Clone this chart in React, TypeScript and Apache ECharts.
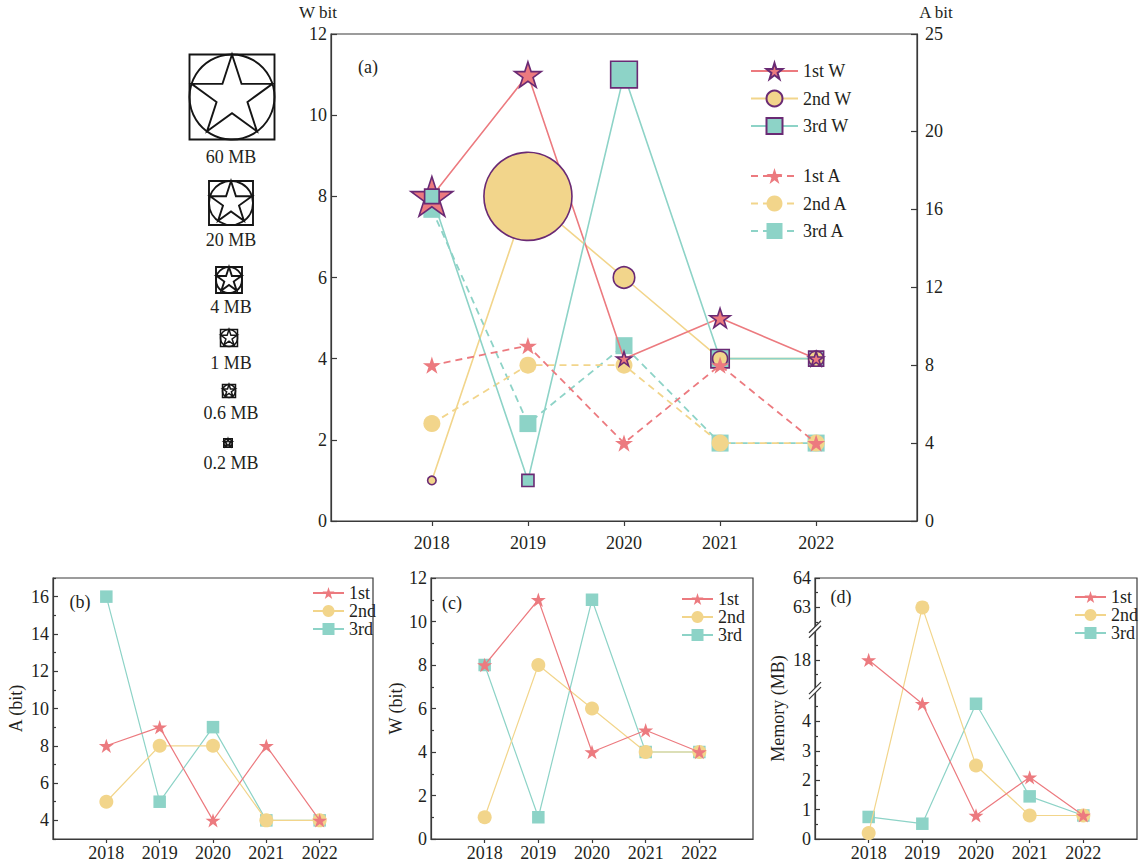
import React, { useEffect, useRef } from 'react';
import * as echarts from 'echarts';

// ---------------- data ----------------
const years = [2018, 2019, 2020, 2021, 2022];
const w1st = [8, 11, 4, 5, 4];
const w2nd = [1, 8, 6, 4, 4];
const w3rd = [8, 1, 11, 4, 4];
const a1st = [8, 9, 4, 8, 4];
const a2nd = [5, 8, 8, 4, 4];
const a3rd = [16, 5, 9, 4, 4];
const mem1st = [18, 4.6, 0.8, 2.1, 0.8];
const mem2nd = [0.2, 63, 2.5, 0.8, 0.8];
const mem3rd = [0.75, 0.52, 4.6, 1.45, 0.8];
const sizeLegendMB = [60, 20, 4, 1, 0.6, 0.2];
const sizeLegendLabels = ['60 MB', '20 MB', '4 MB', '1 MB', '0.6 MB', '0.2 MB'];
const rightTicks = [0, 4, 8, 12, 16, 20, 25];
const aMajorTicks = [4, 6, 8, 10, 12, 14, 16];
const aMinorTicks = [3, 5, 7, 9, 11, 13, 15, 17];
const memMajorTicks = [0, 1, 2, 3, 4, 18, 63, 64];
const memMinorTicks = [0.5, 1.5, 2.5, 3.5, 4.5, 17.5, 18.5, 62.5, 63.5];
const memBreaks = [
  { start: 5, end: 17 },
  { start: 19, end: 62.3 },
];

// ---------------- styles / layout ----------------
const FONT = '"Liberation Serif", "Times New Roman", serif';
const RED = '#EC7A7F';
const YELLOW = '#F2D58B';
const TEAL = '#8DD3C7';
const PURPLE = '#6A2A74';
const AX = '#3a3a3a';
const TXT = '#231f20';

// bubble size scale (MB -> px)
const SIZE_STOPS: [number, number][] = [
  [0, 4], [0.2, 8.5], [0.6, 13], [1, 17], [4, 26], [20, 44], [60, 85],
];
function bubbleSize(mb: number): number {
  for (let i = 1; i < SIZE_STOPS.length; i++) {
    const [x0, y0] = SIZE_STOPS[i - 1];
    const [x1, y1] = SIZE_STOPS[i];
    if (mb <= x1 || i === SIZE_STOPS.length - 1) {
      return y0 + ((mb - x0) / (x1 - x0)) * (y1 - y0);
    }
  }
  return 4;
}

function starPoints(cx: number, cy: number, R: number): number[][] {
  const pts: number[][] = [];
  for (let i = 0; i < 10; i++) {
    const r = i % 2 === 0 ? R : R * 0.382;
    const a = -Math.PI / 2 + (i * Math.PI) / 5;
    pts.push([cx + r * Math.cos(a), cy + r * Math.sin(a)]);
  }
  return pts;
}
const STAR =
  'path://' +
  starPoints(0, 0, 1)
    .map((p, i) => (i ? 'L' : 'M') + p[0].toFixed(4) + ',' + p[1].toFixed(4))
    .join(' ') +
  'Z';

const pairs = (ys: number[]) => years.map((x, i) => [x, ys[i]]);

const GRID_MAIN = { left: 331, top: 34, width: 586, height: 487 };
const GRID_B = { left: 53, top: 578, width: 320, height: 261 };
const GRID_C = { left: 431, top: 578, width: 322, height: 261 };
const GRID_D = { left: 815, top: 578, width: 322, height: 261 };

const SIZE_LEGEND_LAYOUT = [
  { cx: 232, cy: 97, ly: 157 },
  { cx: 231, cy: 203, ly: 240 },
  { cx: 229, cy: 280, ly: 307 },
  { cx: 229, cy: 338, ly: 363 },
  { cx: 229, cy: 391, ly: 413 },
  { cx: 228, cy: 443, ly: 463 },
];

const axisLine = { show: true, lineStyle: { color: AX, width: 1.2 } };
const tickStyle = { color: AX, width: 1.2 };

function xAxisFor(gridIndex: number, min: number, max: number, margin: number, tickLen: number) {
  return {
    type: 'value',
    gridIndex,
    min,
    max,
    axisLine,
    splitLine: { show: false },
    axisTick: { show: true, inside: false, length: tickLen, customValues: years, lineStyle: tickStyle },
    axisLabel: {
      customValues: years,
      formatter: (v: number) => String(v),
      fontSize: 18,
      fontFamily: FONT,
      color: TXT,
      margin,
    },
  };
}

const labelStyle = (margin: number) => ({ fontSize: 18, fontFamily: FONT, color: TXT, margin });

function subSeries(prefixX: number, prefixY: number, d1: number[], d2: number[], d3: number[]) {
  return [
    {
      name: '3rd', type: 'line', xAxisIndex: prefixX, yAxisIndex: prefixY, data: pairs(d3),
      symbol: 'rect', symbolSize: 12.5, z: 2,
      lineStyle: { color: TEAL, width: 1.2 }, itemStyle: { color: TEAL },
    },
    {
      name: '2nd', type: 'line', xAxisIndex: prefixX, yAxisIndex: prefixY, data: pairs(d2),
      symbol: 'circle', symbolSize: 14, z: 3,
      lineStyle: { color: YELLOW, width: 1.2 }, itemStyle: { color: YELLOW },
    },
    {
      name: '1st', type: 'line', xAxisIndex: prefixX, yAxisIndex: prefixY, data: pairs(d1),
      symbol: STAR, symbolKeepAspect: true, symbolSize: 15, z: 4,
      lineStyle: { color: RED, width: 1.2 }, itemStyle: { color: RED },
    },
  ];
}

function subLegend(left: number, top: number) {
  return {
    data: ['1st', '2nd', '3rd'],
    orient: 'vertical',
    left,
    top,
    padding: 0,
    itemWidth: 31,
    itemHeight: 15,
    itemGap: 0,
    selectedMode: false,
    textStyle: { fontSize: 18, fontFamily: FONT, color: TXT, lineHeight: 15 },
  };
}

// W bubbles: one table, larger bubbles drawn first so small ones stay visible
function wBubbleData() {
  const groups = [
    { ys: w3rd, mem: mem3rd, symbol: 'rect', color: TEAL },
    { ys: w2nd, mem: mem2nd, symbol: 'circle', color: YELLOW },
    { ys: w1st, mem: mem1st, symbol: STAR, color: RED },
  ];
  const items: any[] = [];
  groups.forEach((g) => {
    years.forEach((yr, i) => {
      items.push({
        value: [yr, g.ys[i]],
        symbol: g.symbol,
        symbolSize: bubbleSize(g.mem[i]),
        itemStyle: { color: g.color },
      });
    });
  });
  return items.slice().sort((a, b) => b.symbolSize - a.symbolSize);
}

function buildOption() {
  const wBorder = { borderColor: PURPLE, borderWidth: 1.6 };
  return {
    animation: false,
    backgroundColor: '#fff',
    textStyle: { fontFamily: FONT, color: TXT },
    grid: [
      { ...GRID_MAIN, show: true, borderColor: AX, borderWidth: 1.2 },
      { ...GRID_B, show: true, borderColor: AX, borderWidth: 1.2 },
      { ...GRID_C, show: true, borderColor: AX, borderWidth: 1.2 },
      { ...GRID_D, show: true, borderColor: AX, borderWidth: 1.2 },
    ],
    xAxis: [
      xAxisFor(0, 2016.95, 2023.05, 13, 5),
      xAxisFor(1, 2017, 2023, 5, 4),
      xAxisFor(2, 2017, 2023, 5, 4),
      xAxisFor(3, 2017, 2023, 5, 4),
    ],
    yAxis: [
      {
        type: 'value', gridIndex: 0, position: 'left', min: 0, max: 12, interval: 2,
        axisLine, splitLine: { show: false },
        axisTick: { inside: true, length: 6, lineStyle: tickStyle },
        axisLabel: labelStyle(4),
      },
      {
        type: 'value', gridIndex: 0, position: 'right', min: 0, max: 25,
        axisLine, splitLine: { show: false },
        axisTick: { inside: true, length: 6, customValues: rightTicks, lineStyle: tickStyle },
        axisLabel: { ...labelStyle(8), customValues: rightTicks },
      },
      {
        type: 'value', gridIndex: 1, position: 'left', min: 3, max: 17,
        axisLine, splitLine: { show: false },
        axisTick: { inside: true, length: 5, customValues: aMajorTicks, lineStyle: tickStyle },
        axisLabel: { ...labelStyle(4), customValues: aMajorTicks },
        name: 'A (bit)', nameLocation: 'middle', nameGap: 28, nameRotate: 90,
        nameTextStyle: { fontSize: 18, fontFamily: FONT, color: TXT },
      },
      {
        type: 'value', gridIndex: 1, position: 'left', min: 3, max: 17,
        axisLine: { show: false }, splitLine: { show: false },
        axisTick: { inside: true, length: 3, customValues: aMinorTicks, lineStyle: tickStyle },
        axisLabel: { show: false },
      },
      {
        type: 'value', gridIndex: 2, position: 'left', min: 0, max: 12, interval: 2,
        axisLine, splitLine: { show: false },
        axisTick: { inside: true, length: 5, lineStyle: tickStyle },
        minorTick: { show: true, splitNumber: 2, length: 3, lineStyle: tickStyle },
        axisLabel: labelStyle(4),
        name: 'W (bit)', nameLocation: 'middle', nameGap: 24, nameRotate: 90,
        nameTextStyle: { fontSize: 18, fontFamily: FONT, color: TXT },
      },
      {
        type: 'value', gridIndex: 3, position: 'left', min: 0, max: 64,
        breaks: memBreaks.map((b) => ({ ...b, gap: '1%' })),
        breakArea: { show: false },
        axisLine, splitLine: { show: false },
        axisTick: { inside: true, length: 5, customValues: memMajorTicks, lineStyle: tickStyle },
        axisLabel: { ...labelStyle(4), customValues: memMajorTicks },
        name: 'Memory (MB)', nameLocation: 'middle', nameGap: 28, nameRotate: 90,
        nameTextStyle: { fontSize: 18, fontFamily: FONT, color: TXT },
      },
      {
        type: 'value', gridIndex: 3, position: 'left', min: 0, max: 64,
        breaks: memBreaks.map((b) => ({ ...b, gap: '1%' })),
        breakArea: { show: false },
        axisLine: { show: false }, splitLine: { show: false },
        axisTick: { inside: true, length: 3, customValues: memMinorTicks, lineStyle: tickStyle },
        axisLabel: { show: false },
      },
    ],
    legend: [
      {
        data: ['1st W', '2nd W', '3rd W'], orient: 'vertical', left: 750, top: 62, padding: 0,
        itemWidth: 47, itemHeight: 20, itemGap: 9.5, selectedMode: false,
        textStyle: { fontSize: 18, fontFamily: FONT, color: TXT },
      },
      {
        data: ['1st A', '2nd A', '3rd A'], orient: 'vertical', left: 750, top: 167, padding: 0,
        itemWidth: 47, itemHeight: 20, itemGap: 9.5, selectedMode: false,
        textStyle: { fontSize: 18, fontFamily: FONT, color: TXT },
      },
      subLegend(312, 584),
      subLegend(681, 590),
      subLegend(1074, 588),
    ],
    series: [
      {
        name: '3rd A', type: 'line', xAxisIndex: 0, yAxisIndex: 1, data: pairs(a3rd),
        symbol: 'rect', symbolSize: 17, z: 2,
        lineStyle: { color: TEAL, width: 1.8, type: [7, 5] }, itemStyle: { color: TEAL },
      },
      {
        name: '2nd A', type: 'line', xAxisIndex: 0, yAxisIndex: 1, data: pairs(a2nd),
        symbol: 'circle', symbolSize: 17, z: 3,
        lineStyle: { color: YELLOW, width: 1.8, type: [7, 5] }, itemStyle: { color: YELLOW },
      },
      {
        name: '2nd W', type: 'line', xAxisIndex: 0, yAxisIndex: 0, data: pairs(w2nd),
        symbol: 'circle', showSymbol: false, z: 4,
        lineStyle: { color: YELLOW, width: 1.6 }, itemStyle: { color: YELLOW, ...wBorder },
      },
      {
        name: '1st W', type: 'line', xAxisIndex: 0, yAxisIndex: 0, data: pairs(w1st),
        symbol: STAR, symbolKeepAspect: true, showSymbol: false, z: 4,
        lineStyle: { color: RED, width: 1.6 }, itemStyle: { color: RED, ...wBorder },
      },
      {
        name: '3rd W', type: 'line', xAxisIndex: 0, yAxisIndex: 0, data: pairs(w3rd),
        symbol: 'rect', showSymbol: false, z: 4,
        lineStyle: { color: TEAL, width: 1.6 }, itemStyle: { color: TEAL, ...wBorder },
      },
      {
        name: 'W memory', type: 'scatter', xAxisIndex: 0, yAxisIndex: 0, z: 6,
        symbolKeepAspect: true,
        data: wBubbleData(),
        itemStyle: { ...wBorder, opacity: 1 },
      },
      {
        name: '1st A', type: 'line', xAxisIndex: 0, yAxisIndex: 1, data: pairs(a1st),
        symbol: STAR, symbolKeepAspect: true, symbolSize: 18, z: 7,
        lineStyle: { color: RED, width: 1.8, type: [7, 5] }, itemStyle: { color: RED },
      },
      ...subSeries(1, 2, a1st, a2nd, a3rd),
      ...subSeries(2, 4, w1st, w2nd, w3rd),
      ...subSeries(3, 5, mem1st, mem2nd, mem3rd),
    ],
  };
}

function text(x: number, y: number, t: string, size = 18, align = 'center') {
  return {
    type: 'text',
    x,
    y,
    z: 50,
    style: {
      text: t,
      fontSize: size,
      fontFamily: FONT,
      fill: TXT,
      textAlign: align,
      align,
      textVerticalAlign: 'middle',
      verticalAlign: 'middle',
    },
  };
}

function buildGraphics(chart: any) {
  const els: any[] = [];
  // size legend
  sizeLegendMB.forEach((mb, i) => {
    const { cx, cy, ly } = SIZE_LEGEND_LAYOUT[i];
    const s = bubbleSize(mb);
    const lw = s > 20 ? 1.9 : 1.5;
    const stroke = '#151515';
    els.push({
      type: 'group',
      children: [
        { type: 'rect', shape: { x: cx - s / 2, y: cy - s / 2, width: s, height: s }, style: { fill: '#fff', stroke, lineWidth: lw } },
        { type: 'circle', shape: { cx, cy, r: s / 2 }, style: { fill: 'none', stroke, lineWidth: lw } },
        { type: 'polygon', shape: { points: starPoints(cx, cy, s / 2) }, style: { fill: 'none', stroke, lineWidth: lw } },
      ],
    });
    els.push(text(231, ly, sizeLegendLabels[i], 18));
  });
  els.push(text(368, 67, '(a)', 18));
  els.push(text(80, 602, '(b)', 18));
  els.push(text(452, 603, '(c)', 18));
  els.push(text(841, 597, '(d)', 18));
  els.push(text(318, 12, 'W bit', 17));
  els.push(text(936, 12, 'A bit', 17));

  // axis break marks on (d)
  memBreaks.forEach((b) => {
    const y1 = chart.convertToPixel({ yAxisIndex: 5 }, b.start);
    const y2 = chart.convertToPixel({ yAxisIndex: 5 }, b.end);
    if (typeof y1 !== 'number' || typeof y2 !== 'number' || isNaN(y1) || isNaN(y2)) return;
    const y = (y1 + y2) / 2;
    const x = GRID_D.left;
    els.push({
      type: 'polygon', z: 60,
      shape: { points: [[x - 6, y + 3.5], [x + 6, y - 8.5], [x + 6, y - 3.5], [x - 6, y + 8.5]] },
      style: { fill: '#fff', stroke: 'none' },
    });
    els.push({ type: 'line', z: 61, shape: { x1: x - 6, y1: y + 3.5, x2: x + 6, y2: y - 8.5 }, style: { stroke: AX, lineWidth: 1.2 } });
    els.push({ type: 'line', z: 61, shape: { x1: x - 6, y1: y + 8.5, x2: x + 6, y2: y - 3.5 }, style: { stroke: AX, lineWidth: 1.2 } });
  });
  return els;
}

export default function App() {
  const ref = useRef<HTMLDivElement>(null);
  useEffect(() => {
    const chart = echarts.init(ref.current as HTMLDivElement, null, { renderer: 'svg' });
    chart.setOption(buildOption() as any);
    chart.setOption({ graphic: buildGraphics(chart) } as any);
    return () => chart.dispose();
  }, []);
  return (
    <div
      ref={ref}
      style={{ position: 'absolute', left: 0, top: 0, width: 1140, height: 867, background: '#fff' }}
    />
  );
}
